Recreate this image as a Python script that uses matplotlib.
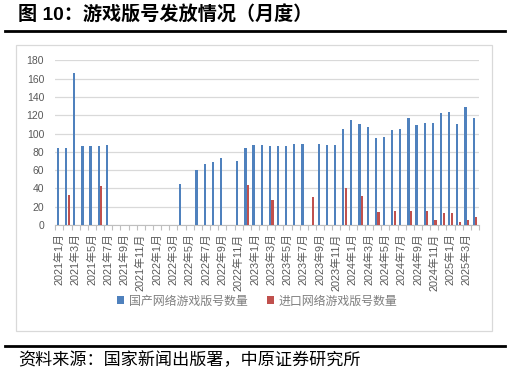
import matplotlib
matplotlib.use("Agg")
import matplotlib.pyplot as plt
from matplotlib.lines import Line2D
from matplotlib.patches import Rectangle
import numpy as np

plt.rcParams['font.family'] = ['Liberation Sans', 'Noto Sans CJK SC', 'DejaVu Sans']

# months 2021-01 .. 2025-04
months = []
for y in range(2021, 2026):
    for m in range(1, 13):
        months.append(f"{y}年{m}月")
months = months[:52]

domestic = [84, 84, 166, 86, 86, 86, 87, 0, 0, 0, 0, 0,
            0, 0, 0, 45, 0, 60, 67, 69, 73, 0, 70, 84,
            87, 87, 86, 86, 86, 89, 88, 0, 89, 87, 87, 105,
            115, 110, 107, 95, 96, 104, 105, 117, 109, 112, 112, 122,
            123, 110, 129, 117]
imported = [0, 33, 0, 0, 0, 43, 0, 0, 0, 0, 0, 0,
            0, 0, 0, 0, 0, 0, 0, 0, 0, 0, 0, 44,
            0, 0, 27, 0, 0, 0, 0, 31, 0, 0, 0, 40,
            0, 32, 0, 14, 0, 15, 0, 15, 0, 15, 6, 13,
            13, 3, 5, 9]
series_names = ["国产网络游戏版号数量", "进口网络游戏版号数量"]
yticks = list(range(0, 181, 20))

W, H = 510, 378
fig = plt.figure(figsize=(W / 100, H / 100), dpi=100)

# outer frame
fig.patches.append(Rectangle((16 / W, 1 - 331 / H), (492 - 16) / W, (331 - 45) / H,
                             transform=fig.transFigure, fill=False,
                             edgecolor='#D9D9D9', linewidth=0.9))
# thick rules
for yy in (31, 346):
    fig.lines.append(Line2D([5 / W, 505 / W], [1 - yy / H, 1 - yy / H],
                            transform=fig.transFigure, color='black', linewidth=2.0))

ax = fig.add_axes([55.2 / W, 1 - 225 / H, (479 - 55.2) / W, (225 - 60.3) / H])
x = np.arange(len(months))
bw = 0.27
ax.bar(x - 0.16, domestic, width=bw, color='#4F81BD', label=series_names[0], zorder=3)
ax.bar(x + 0.16, imported, width=bw, color='#C0504D', label=series_names[1], zorder=3)

ax.set_xlim(-0.5, len(months) - 0.5)
ax.set_ylim(0, 180)
ax.set_yticks(yticks)
ax.set_yticklabels([str(v) for v in yticks], fontsize=7.5, color='#595959')
ax.tick_params(axis='y', length=0, pad=8)
ax.yaxis.grid(True, color='#D9D9D9', linewidth=0.9, zorder=0)
ax.set_axisbelow(True)

ax.set_xticks(x[::2])
ax.set_xticklabels(months[::2], rotation=90, fontsize=7.8, color='#595959')
ax.set_xticks(np.arange(-0.5, len(months), 1), minor=True)
ax.tick_params(axis='x', which='major', length=0, pad=6)
ax.tick_params(axis='x', which='minor', length=3.5, color='#BFBFBF', width=0.8)

for s in ('top', 'right', 'left'):
    ax.spines[s].set_visible(False)
ax.spines['bottom'].set_color('#BFBFBF')
ax.spines['bottom'].set_linewidth(0.8)

leg = fig.legend(loc='center', bbox_to_anchor=(257.5 / W, 1 - 301 / H), ncol=2,
                 frameon=False, handlelength=0.6, handleheight=0.6,
                 handletextpad=0.4, columnspacing=1.6,
                 prop={'family': ['Noto Sans CJK SC'], 'size': 8.6})
for t in leg.get_texts():
    t.set_color('#7F7F7F')

fig.text(18 / W, 1 - 15.5 / H, "图 10：游戏版号发放情况（月度）", fontsize=13.8,
         fontweight='bold', va='center', ha='left', color='black')
fig.text(18 / W, 1 - 360 / H, "资料来源：国家新闻出版署，中原证券研究所", fontsize=12.3,
         va='center', ha='left', color='black', family=['Noto Sans CJK SC'])

fig.savefig("out.png", dpi=100)
